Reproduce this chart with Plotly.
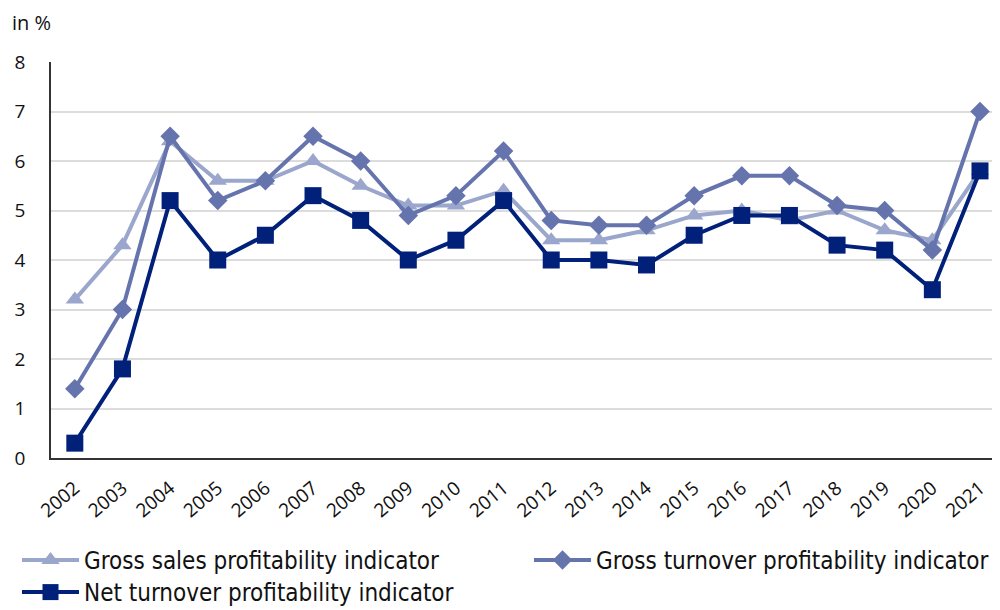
import plotly.graph_objects as go

years = [str(y) for y in range(2002, 2022)]
gross_sales = [3.2, 4.3, 6.4, 5.6, 5.6, 6.0, 5.5, 5.1, 5.1, 5.4, 4.4, 4.4, 4.6, 4.9, 5.0, 4.8, 5.0, 4.6, 4.4, 5.8]
gross_turnover = [1.4, 3.0, 6.5, 5.2, 5.6, 6.5, 6.0, 4.9, 5.3, 6.2, 4.8, 4.7, 4.7, 5.3, 5.7, 5.7, 5.1, 5.0, 4.2, 7.0]
net_turnover = [0.3, 1.8, 5.2, 4.0, 4.5, 5.3, 4.8, 4.0, 4.4, 5.2, 4.0, 4.0, 3.9, 4.5, 4.9, 4.9, 4.3, 4.2, 3.4, 5.8]

names = ["Gross sales profitability indicator",
         "Gross turnover profitability indicator",
         "Net turnover profitability indicator"]
colors = ["#9aa6cc", "#6674ae", "#00207a"]
symbols = ["triangle-up", "diamond", "square"]
sizes = [16, 15, 17]
legend_ids = ["legend", "legend2", "legend3"]

LEGEND_FONT = "DejaVu Sans Condensed, Roboto, sans-serif"

fig = go.Figure()
for vals, name, c, s, sz, lg in zip([gross_sales, gross_turnover, net_turnover],
                                    names, colors, symbols, sizes, legend_ids):
    fig.add_trace(go.Scatter(
        x=years, y=vals, name=name, mode="lines+markers",
        line=dict(color=c, width=4),
        marker=dict(symbol=s, size=sz, color=c),
        legend=lg,
    ))

# page has an 8px body margin, so the figure is drawn 8px smaller and offset
OFF = 8
W, H = 1000 - OFF, 610 - OFF
L, R, T, B = 51 - OFF, 0, 62 - OFF, 152


def legend_at(px, py):
    # px, py in page pixels
    return dict(xref="container", yref="container",
                x=(px - OFF) / W, y=1 - (py - OFF) / H,
                xanchor="left", yanchor="top", orientation="h",
                bgcolor="rgba(0,0,0,0)",
                font=dict(family=LEGEND_FONT, size=24, color="#111111"),
                itemwidth=57)


fig.update_layout(
    width=W, height=H,
    margin=dict(l=L, r=R, t=T, b=B),
    plot_bgcolor="white", paper_bgcolor="white",
    font=dict(family="Open Sans, sans-serif", color="#111111"),
    showlegend=True,
    legend=legend_at(17, 538),
    legend2=legend_at(529, 538),
    legend3=legend_at(17, 570),
    xaxis=dict(type="category", range=[-0.5, 19.42], tickangle=-40,
               tickfont=dict(size=19, color="#111111"),
               showline=True, linecolor="#333333", linewidth=1.5,
               showgrid=False, ticks="", automargin=False,
               ticklabelstandoff=10),
    yaxis=dict(range=[0, 8], dtick=1, tickfont=dict(size=19, color="#111111"),
               showline=True, linecolor="#333333", linewidth=1.5,
               gridcolor="#dcdcdc", gridwidth=1.5, zeroline=False, ticks="",
               automargin=False, ticklabelstandoff=20),
    annotations=[dict(text="in %", xref="paper", yref="paper",
                      x=(10 - 51) / (W - L - R), y=(458 - 22) / (H - B - T),
                      xanchor="left", yanchor="middle",
                      showarrow=False, font=dict(size=20, color="#111111"))],
)

fig.write_html("out.html")
